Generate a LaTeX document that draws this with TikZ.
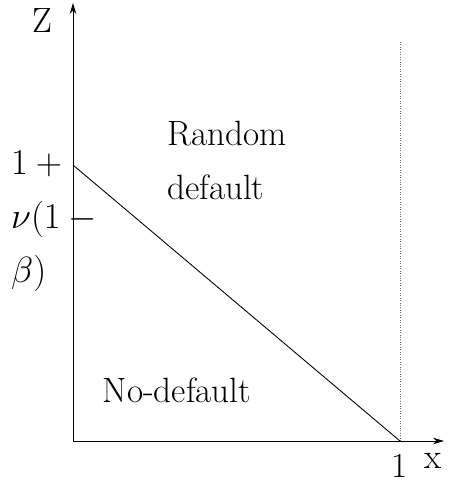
\documentclass[tikz,border=0pt]{standalone}
\usepackage{amsmath,amssymb}
\usetikzlibrary{positioning,arrows.meta}
\tikzset{
  axis/.style={-{Stealth[length=2.2mm,width=1.3mm]},line width=0.5pt},
  bound/.style={line width=0.5pt},
  guide/.style={densely dotted,line width=0.4pt,black!60},
  lbl/.style={font=\fontsize{20}{24}\selectfont,inner sep=1pt},
}
\begin{document}
\begin{tikzpicture}[x=0.02cm,y=-0.02cm]
  \useasboundingbox (0,0) rectangle (454,484);
  % axes
  \coordinate (O) at (73,441);
  \coordinate (ztop) at (73,3);
  \coordinate (xend) at (444,441);
  \draw[axis] (O)--(ztop);
  \draw[axis] (O)--(xend);
  % boundary between the two regions
  \coordinate (zint) at (73,165);
  \coordinate (xone) at (400,441);
  \coordinate (dtop) at (400,42);
  \draw[bound] (zint)--(xone);
  \draw[guide] (xone)--(dtop);
  % labels
  \node[lbl] (zlab) at (42,20) {Z};
  \node[lbl] (xlab) at (433,461) {x};
  \node[lbl] (onelab) at (400,466) {1};
  \node[lbl,align=left,anchor=north west] (intlab) at (9,149)
    {$1+{}$\\[0.24cm]$\nu(1-{}$\\[0.24cm]$\beta)$};
  \node[lbl,align=left,anchor=north west] (randlab) at (165,119)
    {Random\\[0.24cm]default};
  \node[lbl] (nodef) at (177,390) {No-default};
\end{tikzpicture}
\end{document}
